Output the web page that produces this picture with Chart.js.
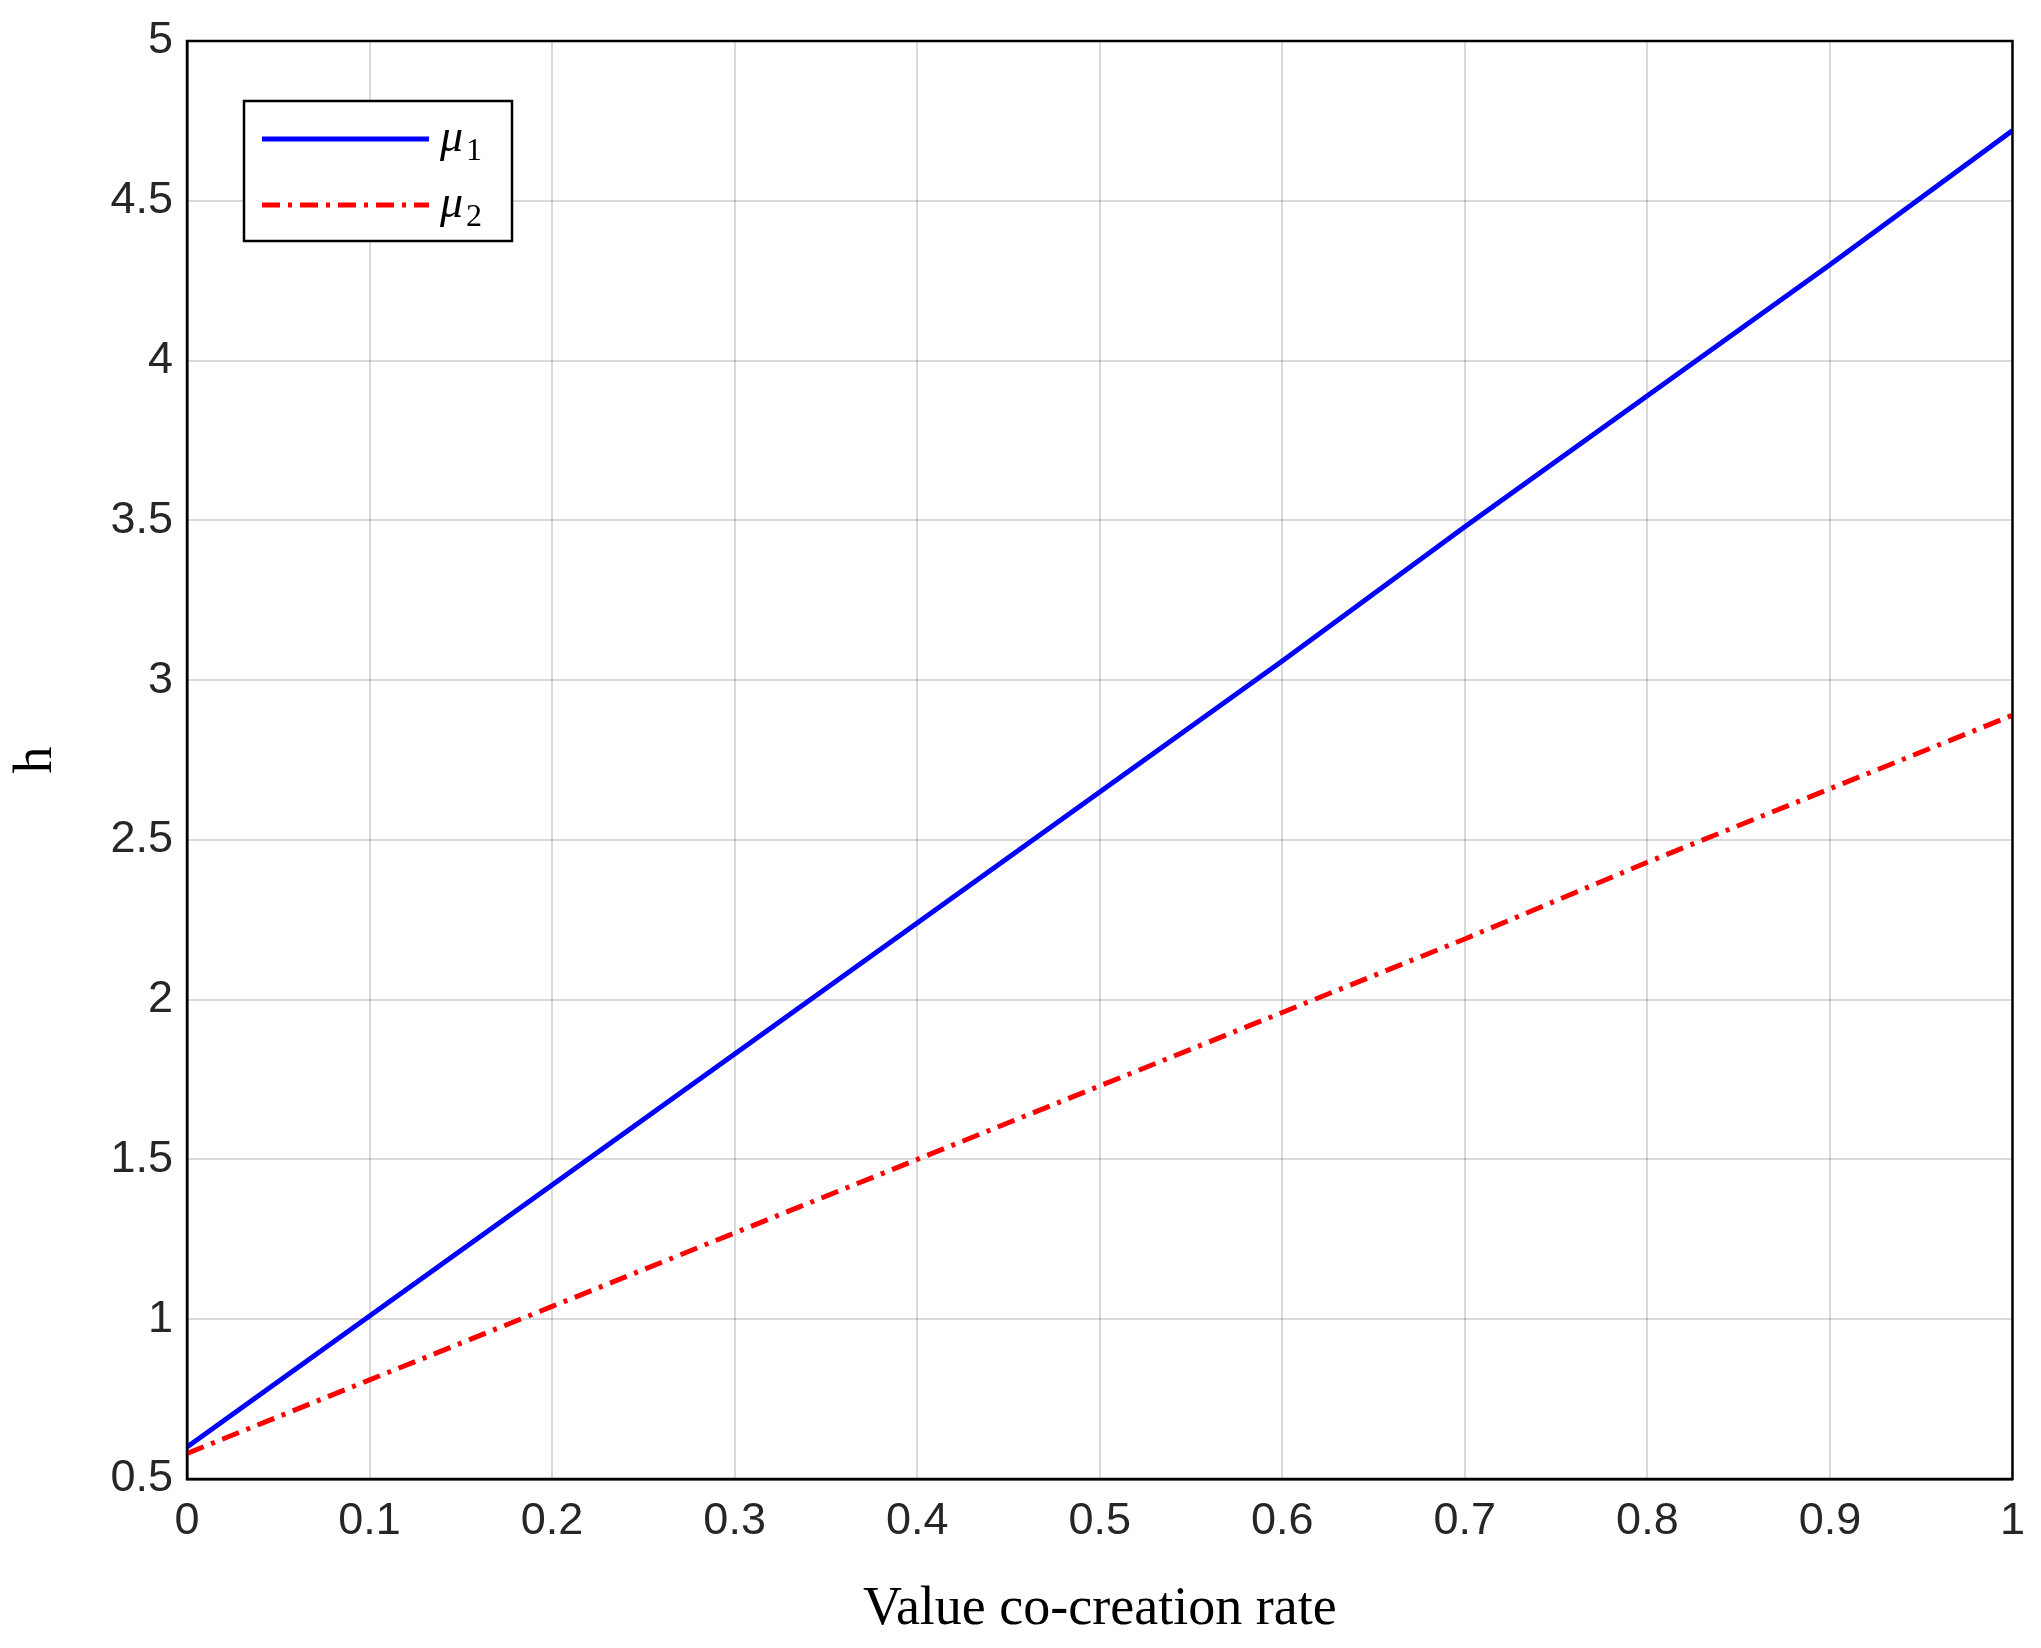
<!DOCTYPE html>
<html><head><meta charset="utf-8">
<script src="https://cdn.jsdelivr.net/npm/chart.js@4"></script>
<style>html,body{margin:0;padding:0;background:#fff}#wrap{width:2041px;height:1648px}</style>
</head><body><div id="wrap"><canvas id="c" width="2041" height="1648"></canvas></div>
<script>
const xValues = [0,0.1,0.2,0.3,0.4,0.5,0.6,0.7,0.8,0.9,1];
const mu1 = [0.60,1.01,1.42,1.83,2.24,2.65,3.06,3.48,3.89,4.30,4.72];
const mu2 = [0.58,0.81,1.04,1.27,1.50,1.73,1.96,2.19,2.43,2.66,2.89];
const seriesNames = ['μ1','μ2'];

const legendBox = {
  id:'legendBox',
  afterDraw(chart){
    const ctx=chart.ctx, a=chart.chartArea;
    ctx.save();
    ctx.strokeStyle='#000';ctx.lineWidth=2.5;
    ctx.strokeRect(a.left,a.top,a.right-a.left,a.bottom-a.top);
    const x=a.left+57,y=a.top+60,w=268,h=140;
    ctx.fillStyle='#fff';ctx.fillRect(x,y,w,h);ctx.strokeRect(x,y,w,h);
    const items=[{c:'#0000ff',d:[],sub:'1'},{c:'#ff0000',d:[18,8,4,8],sub:'2'}];
    items.forEach((it,i)=>{
      const yy=y+38+i*66;
      ctx.strokeStyle=it.c;ctx.lineWidth=5;ctx.setLineDash(it.d);
      ctx.beginPath();ctx.moveTo(x+18,yy);ctx.lineTo(x+185,yy);ctx.stroke();
      ctx.setLineDash([]);
      ctx.fillStyle='#000';ctx.textBaseline='middle';
      ctx.font='italic 46px "Liberation Serif"';ctx.fillText('μ',x+196,yy);
      ctx.font='32px "Liberation Serif"';ctx.fillText(it.sub,x+222,yy+13);
    });
    ctx.restore();
  }
};

new Chart(document.getElementById('c'),{
  type:'line',
  data:{labels:xValues,datasets:[
    {label:seriesNames[0],data:xValues.map((x,i)=>({x,y:mu1[i]})),borderColor:'#0000ff',borderWidth:5,pointRadius:0,tension:0},
    {label:seriesNames[1],data:xValues.map((x,i)=>({x,y:mu2[i]})),borderColor:'#ff0000',borderWidth:5,borderDash:[18,8,4,8],pointRadius:0,tension:0}
  ]},
  options:{
    responsive:false,animation:false,
    layout:{padding:{left:0,top:35,right:21,bottom:0}},
    plugins:{legend:{display:false},tooltip:{enabled:false}},
    scales:{
      x:{type:'linear',min:0,max:1,
        afterFit(s){s.height=169;},
        ticks:{stepSize:0.1,color:'#262626',font:{family:'Liberation Sans',size:45},padding:16,maxRotation:0,
          callback:v=>+v.toFixed(1)+''},
        grid:{color:'rgba(0,0,0,0.15)',lineWidth:2,tickLength:0},border:{color:'#000',width:2.5},
        title:{display:true,text:'Value co-creation rate',color:'#000',font:{family:'Liberation Serif',size:54},padding:{top:0,bottom:6}}
      },
      y:{min:0.5,max:5,
        afterFit(s){s.width=187;},
        ticks:{stepSize:0.5,color:'#262626',font:{family:'Liberation Sans',size:45},padding:14,
          callback:v=>+v.toFixed(1)+''},
        grid:{color:'rgba(0,0,0,0.15)',lineWidth:2,tickLength:0},border:{color:'#000',width:2.5},
        title:{display:true,text:'h',color:'#000',font:{family:'Liberation Serif',size:54},padding:{bottom:0}}
      }
    }
  },
  plugins:[legendBox]
});
</script></body></html>
